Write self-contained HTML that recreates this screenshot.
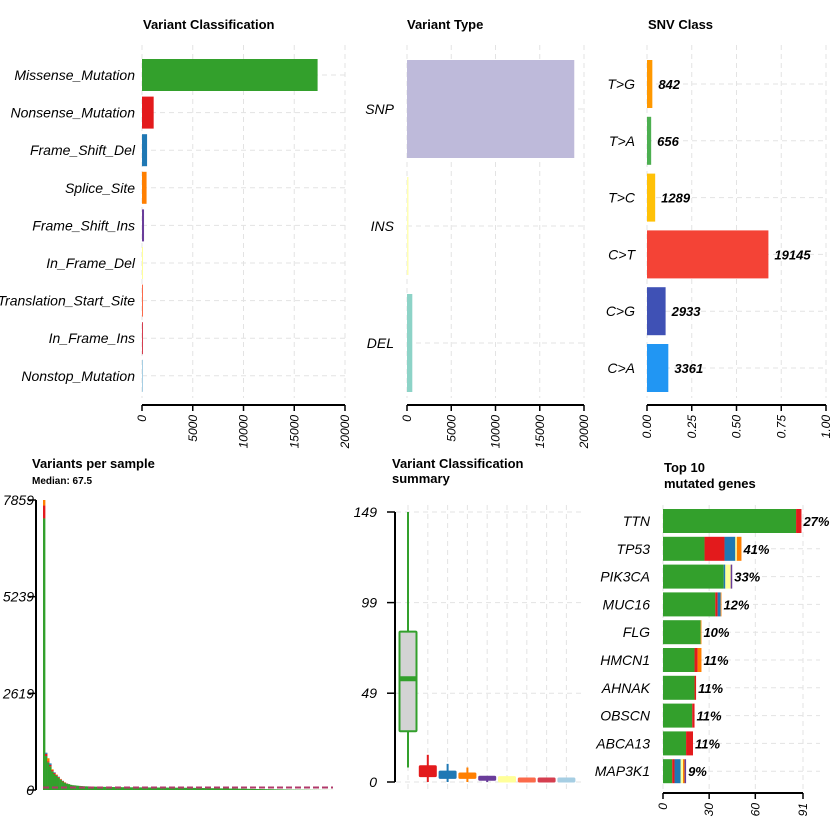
<!DOCTYPE html>
<html><head><meta charset="utf-8"><style>
body{margin:0;background:#fff}
svg{display:block;font-family:"Liberation Sans",Arial,sans-serif}
.t{font-weight:bold;font-size:13px}
.lab{font-style:italic;font-size:14px}
.tk{font-style:italic;font-size:12px}
.g{stroke:#e3e3e3;stroke-dasharray:5,4;stroke-width:1}
</style></head><body>
<svg id="s" width="840" height="840" xmlns="http://www.w3.org/2000/svg">
<text class="t" x="143" y="29">Variant Classification</text>
<text class="t" x="407" y="29">Variant Type</text>
<text class="t" x="648" y="29">SNV Class</text>
<text class="t" x="32" y="468">Variants per sample</text>
<text x="32" y="484" font-size="10" font-weight="bold">Median: 67.5</text>
<text class="t" x="392" y="468">Variant Classification</text>
<text class="t" x="392" y="483">summary</text>
<text class="t" x="664" y="472">Top 10</text>
<text class="t" x="664" y="488">mutated genes</text>
</svg>
<script>
const vcCats=["Missense_Mutation","Nonsense_Mutation","Frame_Shift_Del","Splice_Site","Frame_Shift_Ins","In_Frame_Del","Translation_Start_Site","In_Frame_Ins","Nonstop_Mutation"];
const vcVals=[17300,1150,500,450,200,100,60,40,30];
const vcColors=["#33A02C","#E31A1C","#1F78B4","#FF7F00","#6A3D9A","#FFFF99","#FB6A4A","#D53E4F","#A6CEE3"];
const vcTicks=[0,5000,10000,15000,20000];
const vtCats=["SNP","INS","DEL"];
const vtVals=[18900,100,600];
const vtColors=["#BEBADA","#FFFFB3","#8DD3C7"];
const snvCats=["T>G","T>A","T>C","C>T","C>G","C>A"];
const snvVals=[842,656,1289,19145,2933,3361];
const snvColors=["#FF9800","#4CAF50","#FFC107","#F44336","#3F51B5","#2196F3"];
const snvTicks=[0,0.25,0.5,0.75,1.0];
const sampleTotals=[7859,1010,860,720,560,480,420,360,300,250,210,180,160,140,130,125,118,112,108,104,100,98,96,94,92,90,88,87,86,85,84,83,82,81,80,79,78,77,76,75,74,74,73,73,72,72,71,71,70,70,69,69,68,68,68,67,67,66,66,65,65,64,64,63,63,62,62,61,61,60,60,59,58,57,56,55,54,53,52,51,50,49,48,47,46,45,44,43,42,41,40,39,38,37,36,35,34,33,32,31,30,29,28,27,26,25,24,23,22,21,20,19,18,17,16,15,14,13,12,11,10,10,9,9,8,8,7,7,6,6,5,5,4,4,3,3,3,2,2,2];
const sampleNonsense=[350,60,30,40,35,30,25,20,15,12,10,8];
const sampleOther=[150,30,80,40,20,15,10,8,6,5,4,3];
const sampleMedian=67.5;
const sampleTicks=[0,2619,5239,7859];
const boxCats=vcCats;
const boxQ1=[28,3,2,2,1,0,0,0,0];
const boxMed=[57,5,3,3,1,1,1,1,1];
const boxQ3=[83,9,6,5,2,3,2,2,2];
const boxLo=[8,0,0,0,0,0,0,0,0];
const boxHi=[149,15,10,8,1,3,2,2,2];
const boxTicks=[0,49,99,149];
const genes=["TTN","TP53","PIK3CA","MUC16","FLG","HMCN1","AHNAK","OBSCN","ABCA13","MAP3K1"];
const genePct=["27%","41%","33%","12%","10%","11%","11%","11%","11%","9%"];
const geneMiss=[86.5,27,39.5,34,24.5,20.5,20.5,19,15,6];
const geneNon=[3.5,13,0,1.5,0,2,1,1.5,4.5,1.5];
const geneFsd=[0,7,1,2,0,0,0,0,0,4];
const geneIfd=[0,1,3.5,0,0,0,0,0,0,1.5];
const geneSpl=[0,3,0,0.5,0.5,2.5,0,0,0,1];
const geneFsi=[0,0,1,0,0,0,0,0,0,1];
const geneTicks=[0,30,60,91];

const S=document.getElementById('s');
const NS="http://www.w3.org/2000/svg";
function el(t,a,txt){const e=document.createElementNS(NS,t);for(const k in a)e.setAttribute(k,a[k]);if(txt!==undefined)e.textContent=txt;S.appendChild(e);return e;}

// Panel 1
{const x=v=>142+v*203/20000,y=i=>75+i*37.6;
vcTicks.forEach(t=>{const g=el('line',{x1:x(t),x2:x(t),y1:45,y2:398,class:'g'});});
vcCats.forEach((c,i)=>{const g=el('line',{x1:142,x2:345,y1:y(i),y2:y(i),class:'g'});
const r=el('rect',{x:142,y:y(i)-16,width:Math.max(1,x(vcVals[i])-142),height:32,fill:vcColors[i]});
const l=el('text',{x:135,y:y(i)+5,class:'lab','text-anchor':'end'},c);});
const a=el('line',{x1:142,x2:345,y1:405,y2:405,stroke:'#000','stroke-width':2});
vcTicks.forEach(t=>{el('line',{x1:x(t),x2:x(t),y1:405,y2:411,stroke:'#000','stroke-width':1.5});const l=el('text',{x:0,y:0,class:'tk','text-anchor':'end',transform:`translate(${x(t)+4},415) rotate(-90)`},t);});}

// Panel 2
{const x=v=>407+v*177/20000,y=i=>109+i*117;
vcTicks.forEach(t=>{const g=el('line',{x1:x(t),x2:x(t),y1:45,y2:398,class:'g'});});
vtCats.forEach((c,i)=>{const g=el('line',{x1:407,x2:584,y1:y(i),y2:y(i),class:'g'});
const r=el('rect',{x:407,y:y(i)-49,width:Math.max(1.5,x(vtVals[i])-407),height:98,fill:vtColors[i]});
const l=el('text',{x:394,y:y(i)+5,class:'lab','text-anchor':'end'},c);});
const a=el('line',{x1:407,x2:584,y1:405,y2:405,stroke:'#000','stroke-width':2});
vcTicks.forEach(t=>{el('line',{x1:x(t),x2:x(t),y1:405,y2:411,stroke:'#000','stroke-width':1.5});const l=el('text',{x:0,y:0,class:'tk','text-anchor':'end',transform:`translate(${x(t)+4},415) rotate(-90)`},t);});}

// Panel 3
{const tot=snvVals.reduce((a,b)=>a+b,0);const x=v=>647+v*179,y=i=>84+i*56.8;
snvTicks.forEach(t=>{const g=el('line',{x1:x(t),x2:x(t),y1:45,y2:398,class:'g'});});
snvCats.forEach((c,i)=>{const g=el('line',{x1:647,x2:826,y1:y(i),y2:y(i),class:'g'});
const w=snvVals[i]/tot*179;
const r=el('rect',{x:647,y:y(i)-24,width:w,height:48,fill:snvColors[i]});
const l=el('text',{x:635,y:y(i)+5,class:'lab','text-anchor':'end'},c);
const v=el('text',{x:647+w+6,y:y(i)+5,'font-size':13,'font-weight':'bold','font-style':'italic'},snvVals[i]);});
const a=el('line',{x1:647,x2:826,y1:405,y2:405,stroke:'#000','stroke-width':2});
snvTicks.forEach(t=>{el('line',{x1:x(t),x2:x(t),y1:405,y2:411,stroke:'#000','stroke-width':1.5});const l=el('text',{x:0,y:0,class:'tk','text-anchor':'end',transform:`translate(${x(t)+4},415) rotate(-90)`},t.toFixed(2));});}

// Panel 4
{const y=v=>790-v*290/7859,bw=290/sampleTotals.length;
sampleTotals.forEach((t,i)=>{const n=sampleNonsense[i]||0,o=sampleOther[i]||0,m=t-n-o,x0=43+i*bw;
const r=el('rect',{x:x0,y:y(m),width:bw+0.3,height:790-y(m),fill:'#33A02C'});
if(n){const r2=el('rect',{x:x0,y:y(m+n),width:bw+0.3,height:y(m)-y(m+n),fill:'#E31A1C'});}
if(o){const r3=el('rect',{x:x0,y:y(t),width:bw+0.3,height:y(m+n)-y(t),fill:i%2?'#1F78B4':'#FF7F00'});}});
const md=el('line',{x1:43,x2:333,y1:y(sampleMedian),y2:y(sampleMedian),stroke:'#B03A6A','stroke-width':2,'stroke-dasharray':'6,3'});
const a=el('line',{x1:36,x2:36,y1:500,y2:790,stroke:'#000','stroke-width':2});
sampleTicks.forEach(t=>{el('line',{x1:28,x2:36,y1:y(t),y2:y(t),stroke:'#000','stroke-width':1.5});const l=el('text',{x:34,y:y(t)+5,class:'lab','text-anchor':'end'},t);});}

// Panel 5
{const y=v=>782-v*270/149,x=i=>408+i*19.8;
boxTicks.forEach(t=>{const g=el('line',{x1:396,x2:585,y1:y(t),y2:y(t),class:'g'});});
boxCats.forEach((c,i)=>{const g=el('line',{x1:x(i),x2:x(i),y1:505,y2:790,class:'g'});});
boxCats.forEach((c,i)=>{const col=vcColors[i],big=i===0;
const w=el('line',{x1:x(i),x2:x(i),y1:y(boxLo[i]),y2:y(boxHi[i]),stroke:col,'stroke-width':2});
const h=Math.max(4,y(boxQ1[i])-y(boxQ3[i]));
const b=el('rect',{x:x(i)-8.5,y:big?y(boxQ3[i]):y(boxQ1[i])-h,width:17,height:h,fill:big?'#d3d3d3':col,stroke:col,'stroke-width':big?2:1,rx:1});
if(big){const m=el('line',{x1:x(i)-8.5,x2:x(i)+8.5,y1:y(boxMed[i]),y2:y(boxMed[i]),stroke:col,'stroke-width':5});}});
const a=el('line',{x1:395,x2:395,y1:512,y2:782,stroke:'#000','stroke-width':2});
boxTicks.forEach(t=>{el('line',{x1:387,x2:395,y1:y(t),y2:y(t),stroke:'#000','stroke-width':1.5});const l=el('text',{x:377,y:y(t)+5,class:'lab','text-anchor':'end'},t);});}

// Panel 6
{const x=v=>663+v*140/91,y=i=>521+i*27.8;
const segs=[[geneMiss,'#33A02C'],[geneNon,'#E31A1C'],[geneFsd,'#1F78B4'],[geneIfd,'#FFFF99'],[geneSpl,'#FF7F00'],[geneFsi,'#6A3D9A']];
geneTicks.forEach(t=>{const g=el('line',{x1:x(t),x2:x(t),y1:505,y2:790,class:'g'});});
genes.forEach((gname,i)=>{const g=el('line',{x1:663,x2:820,y1:y(i),y2:y(i),class:'g'});
let acc=0;segs.forEach(([arr,col])=>{const v=arr[i];if(!v)return;const r=el('rect',{x:x(acc),y:y(i)-12,width:x(acc+v)-x(acc),height:24,fill:col});acc+=v;});
const l=el('text',{x:650,y:y(i)+5,class:'lab','text-anchor':'end'},gname);
const p=el('text',{x:x(acc)+2,y:y(i)+5,'font-size':13,'font-weight':'bold','font-style':'italic'},genePct[i]);});
const a=el('line',{x1:663,x2:803,y1:793,y2:793,stroke:'#000','stroke-width':2});
geneTicks.forEach(t=>{el('line',{x1:x(t),x2:x(t),y1:793,y2:799,stroke:'#000','stroke-width':1.5});const l=el('text',{x:0,y:0,class:'tk','text-anchor':'end',transform:`translate(${x(t)+4},803) rotate(-90)`},t);});}
</script>
</body></html>
